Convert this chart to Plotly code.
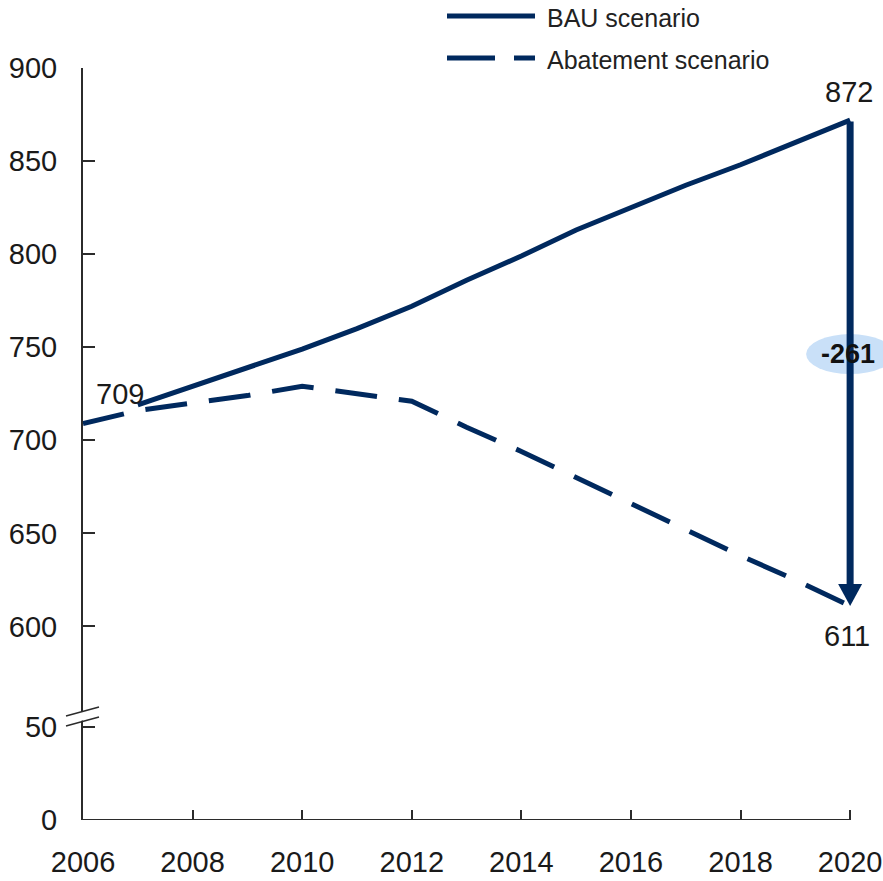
import plotly.graph_objects as go

# ---------------- data ----------------
YEARS = list(range(2006, 2021))
BAU = [None, 719, 729, 739, 749, 760, 772, 786, 799, 813, 825, 837, 848, 860, 872]
ABATEMENT = [709, 716, 720, 724, 729, 725, 721, 707, 694, 680, 666, 652, 638, 625, 611]
Y_TICKS = [0, 50, 600, 650, 700, 750, 800, 850, 900]
X_TICKS = list(range(2006, 2021, 2))
LABEL_START = 709
LABEL_BAU_END = 872
LABEL_ABAT_END = 611
DIFF_LABEL = "-261"

# broken axis: 0..50 kept, 600..900 shifted down
BREAK_LOW, BREAK_HIGH, BREAK_GAP = 50, 600, 496


def ymap(v):
    if v is None:
        return None
    return v if v <= BREAK_LOW else v - BREAK_GAP


NAVY = "#00295e"
AXIS = "#2b2b2b"
FONT = "Arial, Liberation Sans, sans-serif"

W, H = 883, 881
L, R, T, B = 83, 0, 68, 61
PW, PH = W - L - R, H - T - B


def px(x):  # pixel -> paper x
    return (x - L) / PW


def py(y):  # pixel -> paper y
    return (H - B - y) / PH


fig = go.Figure()

fig.add_trace(go.Scatter(
    x=YEARS, y=[ymap(v) for v in ABATEMENT], mode="lines",
    line=dict(color=NAVY, width=5, dash="42px,22px"),
    name="Abatement scenario", showlegend=False, hoverinfo="skip"))
fig.add_trace(go.Scatter(
    x=YEARS, y=[ymap(v) for v in BAU], mode="lines",
    line=dict(color=NAVY, width=5), connectgaps=False,
    name="BAU scenario", showlegend=False, hoverinfo="skip"))

shapes = []
annotations = []

# x-axis line
shapes.append(dict(type="line", xref="x", yref="y", x0=YEARS[0], x1=YEARS[-1],
                   y0=0, y1=0, line=dict(color=AXIS, width=2), layer="above"))

# axis break marks
shapes.append(dict(type="path", xref="paper", yref="paper",
                   path=f"M {px(66)},{py(716)} L {px(99)},{py(707)} L {px(99)},{py(716)} L {px(66)},{py(725)} Z",
                   fillcolor="white", line=dict(width=0), layer="above"))
shapes.append(dict(type="line", xref="paper", yref="paper", x0=px(66), y0=py(716), x1=px(99), y1=py(707),
                   line=dict(color=AXIS, width=1.5), layer="above"))
shapes.append(dict(type="line", xref="paper", yref="paper", x0=px(66), y0=py(726), x1=px(99), y1=py(717),
                   line=dict(color=AXIS, width=1.5), layer="above"))

# difference arrow: shaft
annotations.append(dict(x=YEARS[-1], y=ymap(LABEL_ABAT_END), ax=YEARS[-1], ay=ymap(LABEL_BAU_END),
                        xref="x", yref="y", axref="x", ayref="y", text="", showarrow=True,
                        arrowhead=0, arrowwidth=7, arrowcolor=NAVY, standoff=18))
# arrow head
shapes.append(dict(type="path", xref="x", yref="y", xsizemode="pixel", ysizemode="pixel",
                   xanchor=YEARS[-1], yanchor=ymap(LABEL_ABAT_END),
                   path="M -12,22 L 12,22 L 0,0 Z", fillcolor=NAVY, line=dict(width=0)))
# ellipse with difference
shapes.append(dict(type="circle", xref="x", yref="y", xsizemode="pixel", ysizemode="pixel",
                   xanchor=YEARS[-1], yanchor=ymap(LABEL_BAU_END),
                   x0=-44, x1=44, y0=-254, y1=-214, fillcolor="#c9e0f8", line=dict(width=0),
                   layer="above"))
annotations.append(dict(x=YEARS[-1], y=ymap(LABEL_BAU_END), xref="x", yref="y", text=DIFF_LABEL,
                        showarrow=False, yshift=-234, xshift=-2,
                        font=dict(family=FONT, size=27, color="#111111", weight="bold")))

# value labels
annotations.append(dict(x=YEARS[0], y=ymap(LABEL_START), xref="x", yref="y", text=str(LABEL_START),
                        showarrow=False, xshift=37, yshift=30,
                        font=dict(family=FONT, size=29, color="#1a1a1a")))
annotations.append(dict(x=YEARS[-1], y=ymap(LABEL_BAU_END), xref="x", yref="y", text=str(LABEL_BAU_END),
                        showarrow=False, xshift=-1, yshift=28,
                        font=dict(family=FONT, size=29, color="#1a1a1a")))
annotations.append(dict(x=YEARS[-1], y=ymap(LABEL_ABAT_END), xref="x", yref="y", text=str(LABEL_ABAT_END),
                        showarrow=False, xshift=-3, yshift=-30,
                        font=dict(family=FONT, size=29, color="#1a1a1a")))

# legend (drawn manually)
shapes.append(dict(type="line", xref="paper", yref="paper", x0=px(447), x1=px(535), y0=py(16), y1=py(16),
                   line=dict(color=NAVY, width=5)))
shapes.append(dict(type="line", xref="paper", yref="paper", x0=px(447), x1=px(535), y0=py(58), y1=py(58),
                   line=dict(color=NAVY, width=5, dash="48px,19px")))
annotations.append(dict(x=px(545), y=py(18), xref="paper", yref="paper", text="BAU scenario",
                        showarrow=False, xanchor="left", yanchor="middle",
                        font=dict(family=FONT, size=25, color="#222222")))
annotations.append(dict(x=px(545), y=py(60), xref="paper", yref="paper", text="Abatement scenario",
                        showarrow=False, xanchor="left", yanchor="middle",
                        font=dict(family=FONT, size=25, color="#222222")))

fig.update_layout(
    width=W, height=H,
    margin=dict(l=L, r=R, t=T, b=B),
    plot_bgcolor="white", paper_bgcolor="white",
    shapes=shapes, annotations=annotations,
    showlegend=False,
    xaxis=dict(range=[2006, 2020.6], tickvals=X_TICKS, ticktext=[str(x) for x in X_TICKS],
               showline=False, showgrid=False, zeroline=False,
               ticks="inside", ticklen=10, tickwidth=1.5, tickcolor=AXIS,
               ticklabelstandoff=22,
               tickfont=dict(family=FONT, size=29, color="#1a1a1a")),
    yaxis=dict(range=[0, ymap(900)], tickvals=[ymap(v) for v in Y_TICKS],
               ticktext=[str(v) for v in Y_TICKS],
               showline=True, linecolor=AXIS, linewidth=2, showgrid=False, zeroline=False,
               ticks="inside", ticklen=12, tickwidth=1.5, tickcolor=AXIS,
               ticklabelstandoff=18,
               tickfont=dict(family=FONT, size=29, color="#1a1a1a")),
)

fig.write_html("out.html", config={"displayModeBar": False},
               post_script="document.body.style.margin='0';document.body.style.padding='0';")
